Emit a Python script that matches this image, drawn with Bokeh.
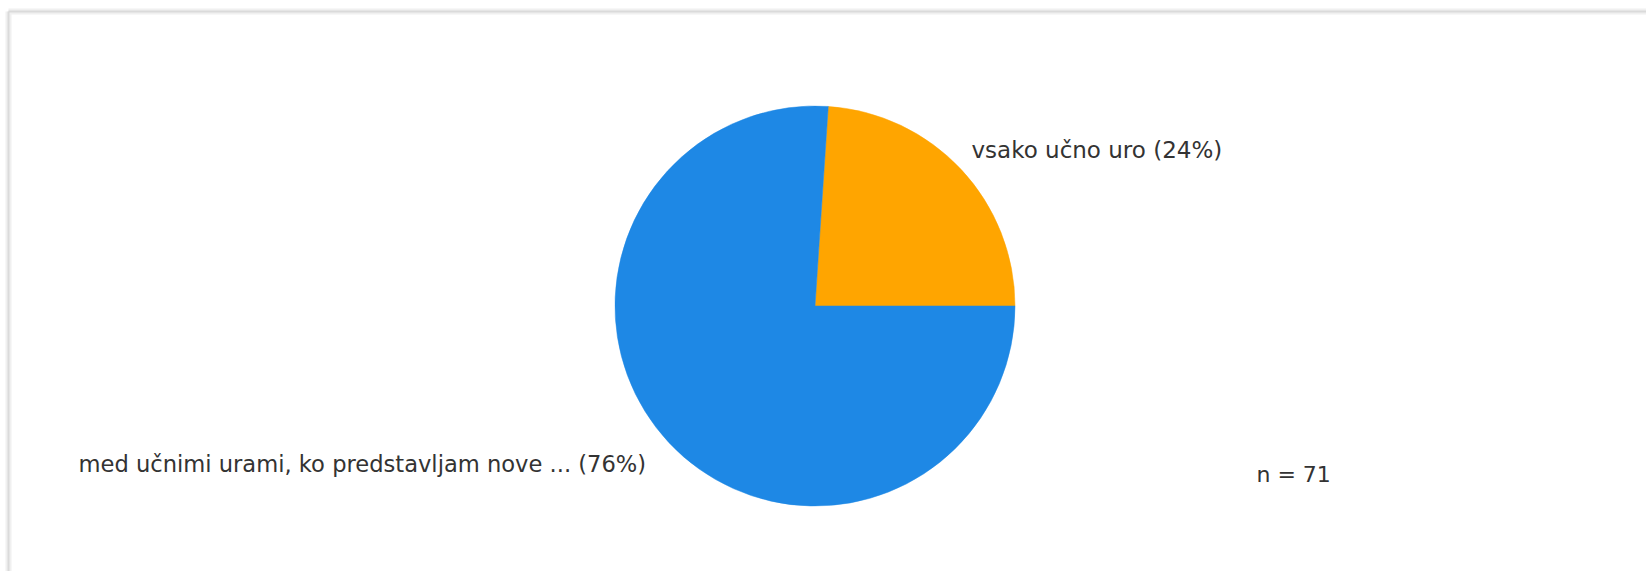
import math
from bokeh.plotting import figure
from bokeh.models import Range1d, ColumnDataSource
from bokeh.core.properties import value
from bokeh.embed import file_html
from bokeh.resources import INLINE

# ---- data ----
categories = ["vsako učno uro", "med učnimi urami, ko predstavljam nove ..."]
counts = [17, 54]
colors = ["#FFA500", "#1E88E5"]
total = sum(counts)

W, H = 1646, 571
p = figure(width=W, height=H, x_range=Range1d(0, W), y_range=Range1d(0, H),
           output_backend="svg", toolbar_location=None, min_border=0)
p.axis.visible = False
p.grid.visible = False
p.outline_line_color = None
p.background_fill_color = "white"
p.border_fill_color = "white"

# frame border (decoration)
p.segment(x0=[8, 8], y0=[-20, H - 11], x1=[8, W + 20], y1=[H - 11, H - 11],
          line_color="#f0f0f0", line_width=6)
p.segment(x0=[8, 8], y0=[-20, H - 11], x1=[8, W + 20], y1=[H - 11, H - 11],
          line_color="#dadada", line_width=2)

# pie
cx, cy, r = 814.5, H - 305.5, 200
fr = [c / total for c in counts]
starts, ends = [], []
acc = 0.0
for f in fr:
    starts.append(acc * 2 * math.pi)
    acc += f
    ends.append(acc * 2 * math.pi)
src = ColumnDataSource(dict(start=starts, end=ends, color=colors))
p.wedge(x=cx, y=cy, radius=r, start_angle="start", end_angle="end",
        fill_color="color", line_color="color", line_width=0.5, source=src)

labels = [f"{c} ({round(100 * v / total)}%)" for c, v in zip(categories, counts)]
lab_src = ColumnDataSource(dict(x=[971, 78], y=[H - 149, H - 463], text=labels,
                                size=["23px", "22.6px"]))
p.text(x="x", y="y", text="text", text_font=value("DejaVu Sans"),
       text_font_size="size", text_color="#333333",
       text_align="left", text_baseline="middle", source=lab_src)
p.text(x=[1256], y=[H - 474], text=[f"n = {total}"], text_font=value("DejaVu Sans"),
       text_font_size="22px", text_color="#333333",
       text_align="left", text_baseline="middle")

open("out.html", "w").write(file_html(p, INLINE))
